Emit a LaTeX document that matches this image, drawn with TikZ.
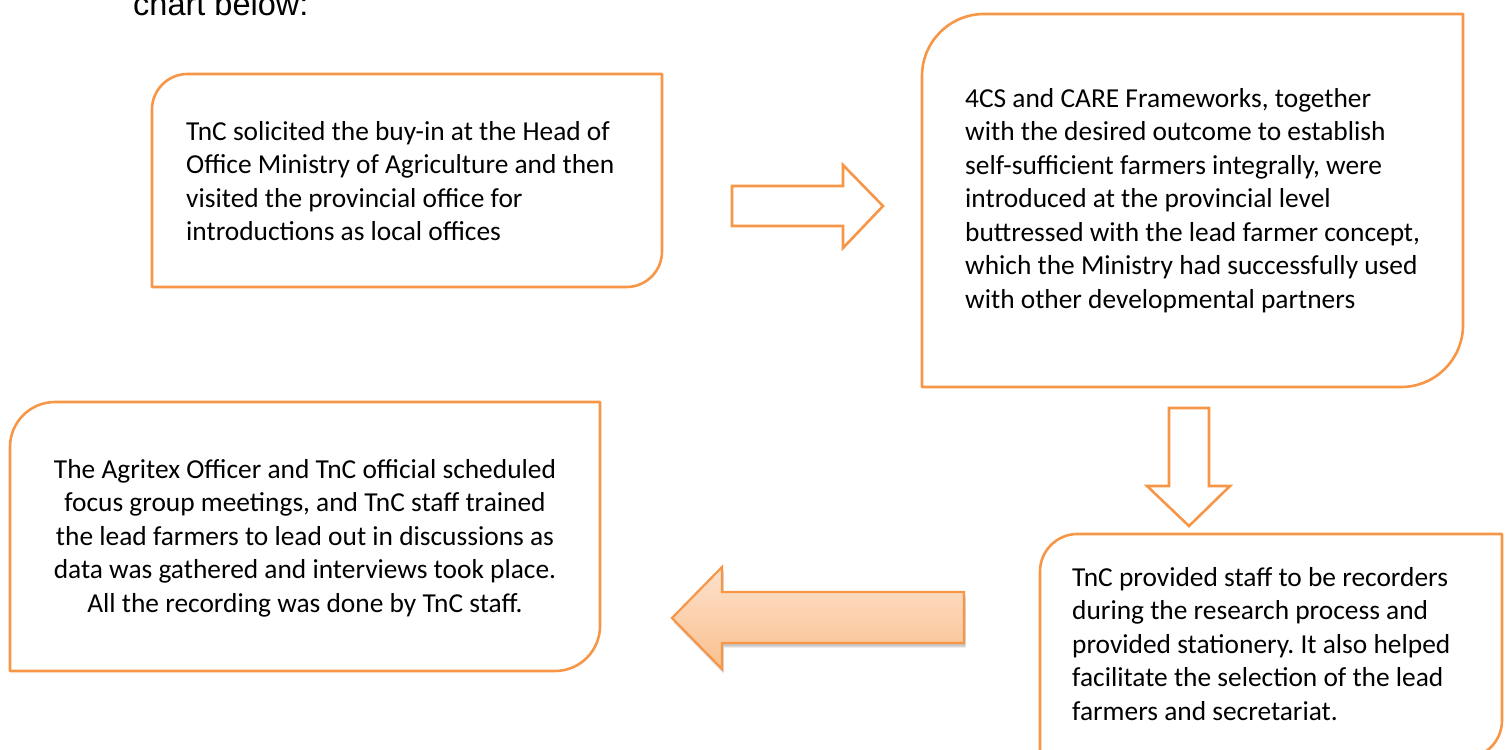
\documentclass[tikz,border=0pt]{standalone}
\usepackage{fontspec}
\setmainfont{Carlito}
\newfontfamily\headfont{Liberation Sans}
\frenchspacing
\definecolor{accent}{HTML}{F79646}
\definecolor{peachtop}{HTML}{FDE1CC}
\definecolor{peachbot}{HTML}{FAC08E}
% rounded-diagonal box: L, T, R, B, corner radius (y grows downward)
\newcommand\diagbox[5]{%
  \draw[boxline] (#1,#4) -- (#1,{#2+#5})
    arc[start angle=180,end angle=270,radius=#5] -- (#3,#2) -- (#3,{#4-#5})
    arc[start angle=0,end angle=90,radius=#5] -- cycle;}
\begin{document}
\begin{tikzpicture}[x=1pt,y=-1pt,
  boxline/.style={draw=accent,line width=2.6pt,line join=round},
  hollowarrow/.style={draw=accent,line width=2.6pt,fill=white,line join=miter},
  % multi-line nodes: the base anchor sits on the last line's baseline
  boxtext/.style={inner sep=0pt,align=left,anchor=base west,
    font=\fontsize{27.4}{33.5}\selectfont},
  centertext/.style={inner sep=0pt,align=center,anchor=base,
    font=\fontsize{27.4}{33.5}\selectfont}]
\useasboundingbox (0,0) rectangle (1506,749);
\clip (0,0) rectangle (1506,749);

% lead-in line of the surrounding text
\node[inner sep=0pt,anchor=base west,font=\headfont\fontsize{32.5}{38}\selectfont]
  (lead) at (133,16) {chart below:};

% step boxes
\diagbox{152}{74}{662}{287}{35.5}
\diagbox{922}{14}{1463}{387}{62}
\diagbox{1040}{534}{1502}{758}{37.5}
\diagbox{10}{402}{600}{671}{45}

\node[boxtext] (s1) at (186,240.5) {TnC solicited the buy-in at the Head of\\
  Office Ministry of Agriculture and then\\
  visited the provincial office for\\
  introductions as local offices};
\node[boxtext] (s2) at (965,308) {4CS and CARE Frameworks, together\\
  with the desired outcome to establish\\
  self-sufficient farmers integrally, were\\
  introduced at the provincial level\\
  buttressed with the lead farmer concept,\\
  which the Ministry had successfully used\\
  with other developmental partners};
\node[boxtext] (s3) at (1072,720) {TnC provided staff to be recorders\\
  during the research process and\\
  provided stationery. It also helped\\
  facilitate the selection of the lead\\
  farmers and secretariat.};
\node[centertext] (s4) at (305,612) {The Agritex Officer and TnC official scheduled\\
  focus group meetings, and TnC staff trained\\
  the lead farmers to lead out in discussions as\\
  data was gathered and interviews took place.\\
  All the recording was done by TnC staff.};

% hollow block arrow to the right
\draw[hollowarrow] (732,186) -- (843,186) -- (843,165) -- (883,206)
  -- (843,248) -- (843,226) -- (732,226) -- cycle;

% hollow block arrow downward
\draw[hollowarrow] (1169,408) -- (1209,408) -- (1209,486) -- (1230,486)
  -- (1189,526) -- (1147,486) -- (1169,486) -- cycle;

% shaded block arrow to the left, with a soft shadow
\foreach \d/\o in {5/0.06,4/0.08,3/0.10}{
  \fill[black,opacity=\o,shift={(1.5,\d)}] (964,592) -- (722,592) -- (722,567)
    -- (672,618) -- (722,669) -- (722,643) -- (964,643) -- cycle;}
\draw[draw=accent,line width=2.2pt,line join=miter,top color=peachtop,bottom color=peachbot]
  (964,592) -- (722,592) -- (722,567) -- (672,618) -- (722,669)
  -- (722,643) -- (964,643) -- cycle;
\end{tikzpicture}
\end{document}
